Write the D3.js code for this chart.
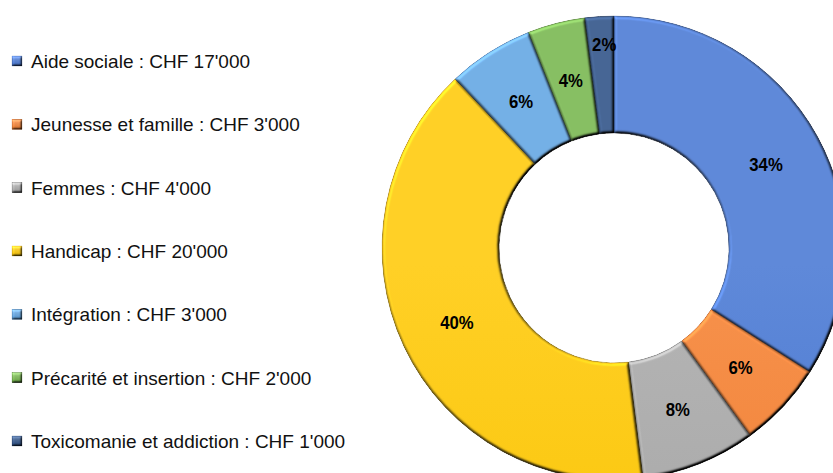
<!DOCTYPE html>
<html>
<head>
<meta charset="utf-8">
<script src="https://cdn.jsdelivr.net/npm/d3@7"></script>
<style>
  html, body { margin: 0; padding: 0; background: #fff; }
  svg { display: block; }
</style>
</head>
<body>
<script>
// chart data
var categories = ['Aide sociale', 'Jeunesse et famille', 'Femmes', 'Handicap',
                  'Intégration', 'Précarité et insertion', 'Toxicomanie et addiction'];
var amounts = [17000, 3000, 4000, 20000, 3000, 2000, 1000];
var amountLabels = ["CHF 17'000", "CHF 3'000", "CHF 4'000", "CHF 20'000",
                    "CHF 3'000", "CHF 2'000", "CHF 1'000"];
var colors = ['#4374D2', '#F57F2E', '#A8A8A8', '#FFC800', '#5BA2E2', '#72B447', '#264B82'];

var W = 833, H = 473;
var cx = 614, cy = 248, rOuter = 232, rInner = 115;

var svg = d3.select('body').append('svg')
    .attr('width', W)
    .attr('height', H);

var defs = svg.append('defs');

// vertical gradient per slice, a bit lighter on top
colors.forEach(function(c, i) {
  var base = d3.color(c);
  var g = defs.append('linearGradient')
      .attr('id', 'grad' + i)
      .attr('gradientUnits', 'userSpaceOnUse')
      .attr('x1', 0).attr('y1', cy - rOuter)
      .attr('x2', 0).attr('y2', cy + rOuter);
  g.append('stop').attr('offset', '0%').attr('stop-color', d3.interpolateRgb(c, '#fff')(0.15));
  g.append('stop').attr('offset', '100%').attr('stop-color', base.darker(0.08));

  var lg = defs.append('linearGradient')
      .attr('id', 'lgrad' + i)
      .attr('x1', 0).attr('y1', 0).attr('x2', 0).attr('y2', 1);
  lg.append('stop').attr('offset', '0%').attr('stop-color', d3.interpolateRgb(c, '#fff')(0.3));
  lg.append('stop').attr('offset', '100%').attr('stop-color', base.darker(0.3));
});

// bevel: diffuse light from top-left, normalised so flat areas keep their colour
function bevel(id, blur, scale) {
  var f = defs.append('filter').attr('id', id)
      .attr('color-interpolation-filters', 'sRGB')
      .attr('x', '-5%').attr('y', '-5%').attr('width', '110%').attr('height', '110%');
  f.append('feGaussianBlur').attr('in', 'SourceAlpha').attr('stdDeviation', blur).attr('result', 'blur');
  f.append('feDiffuseLighting').attr('in', 'blur').attr('surfaceScale', scale)
      .attr('diffuseConstant', 1).attr('lighting-color', '#fff').attr('result', 'light')
    .append('feDistantLight').attr('azimuth', 235).attr('elevation', 55);
  f.append('feComposite').attr('in', 'SourceGraphic').attr('in2', 'light')
      .attr('operator', 'arithmetic').attr('k1', 1 / Math.sin(55 * Math.PI / 180))
      .attr('k2', 0).attr('k3', 0).attr('k4', 0).attr('result', 'lit');
  f.append('feComposite').attr('in', 'lit').attr('in2', 'SourceAlpha').attr('operator', 'in');
}
bevel('bevel', 1.8, 3.5);
bevel('bevelSmall', 0.8, 2);

var data = categories.map(function(c, i) {
  return { name: c, value: amounts[i], label: amountLabels[i], idx: i };
});
var total = d3.sum(amounts);

var pie = d3.pie().sort(null).value(function(d) { return d.value; });
var arc = d3.arc().innerRadius(rInner).outerRadius(rOuter);
var arcs = pie(data);

var g = svg.append('g').attr('transform', 'translate(' + cx + ',' + cy + ')');

g.selectAll('path.slice')
    .data(arcs)
  .enter().append('path')
    .attr('class', 'slice')
    .attr('d', arc)
    .attr('fill', function(d) { return 'url(#grad' + d.data.idx + ')'; })
    .attr('stroke', function(d) { return d3.color(colors[d.data.idx]).darker(0.7); })
    .attr('stroke-width', 0.7)
    .attr('filter', 'url(#bevel)');

// percentage labels (tiny slice label pushed out toward the rim)
var fmt = d3.format('.0%');
var smallArc = d3.arc().innerRadius(rOuter - 28).outerRadius(rOuter - 28);
g.selectAll('text.pct')
    .data(arcs)
  .enter().append('text')
    .attr('class', 'pct')
    .attr('transform', function(d) {
      var small = d.data.value / total < 0.03;
      var p = small ? smallArc.centroid(d) : arc.centroid(d);
      if (small) p[0] += 3;
      return 'translate(' + p[0] + ',' + p[1] + ') scale(0.88,1)';
    })
    .attr('text-anchor', 'middle')
    .attr('dy', '0.36em')
    .style('font-family', '"Liberation Sans", Arial, sans-serif')
    .style('font-weight', 'bold')
    .style('font-size', '19px')
    .attr('fill', '#000')
    .text(function(d) { return fmt(d.data.value / total); });

// legend
var legendY = d3.scalePoint().domain(categories).range([61, 441]);
var leg = svg.append('g').selectAll('g.leg')
    .data(data)
  .enter().append('g')
    .attr('class', 'leg')
    .attr('transform', function(d) { return 'translate(12,' + legendY(d.name) + ')'; });

leg.append('rect')
    .attr('x', 0).attr('y', -5)
    .attr('width', 10).attr('height', 10)
    .attr('fill', function(d) { return 'url(#lgrad' + d.idx + ')'; })
    .attr('stroke', function(d) { return d3.color(colors[d.idx]).darker(0.5); })
    .attr('stroke-width', 0.6)
    .attr('filter', 'url(#bevelSmall)');

leg.append('text')
    .attr('x', 19)
    .attr('dy', '0.36em')
    .style('font-family', '"Liberation Sans", Arial, sans-serif')
    .style('font-size', '19px')
    .attr('fill', '#111')
    .text(function(d) { return d.name + ' : ' + d.label; });
</script>
</body>
</html>
